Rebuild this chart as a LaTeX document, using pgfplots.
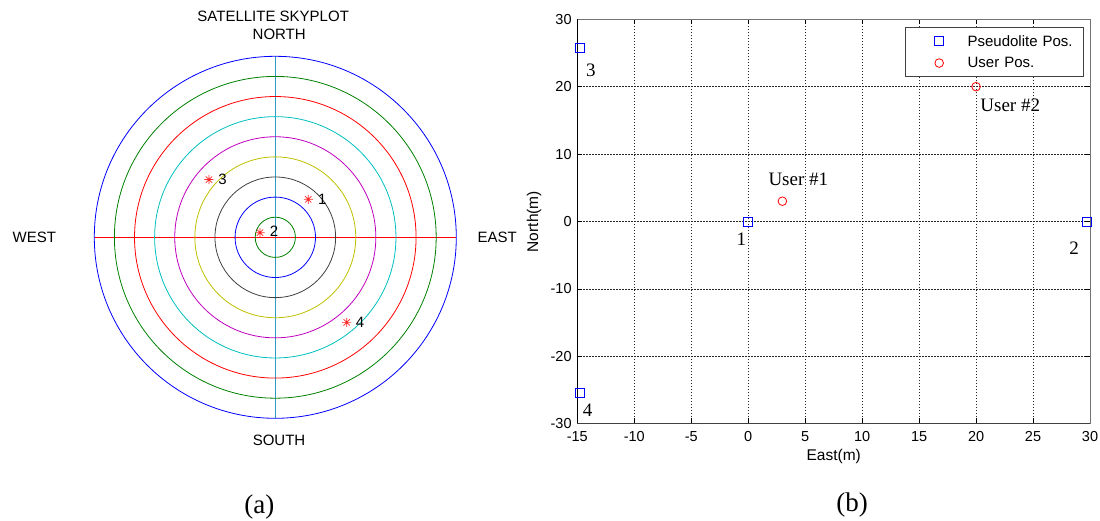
\documentclass[border=0pt]{standalone}
\usepackage{pgfplots}
\pgfplotsset{compat=1.18}
\usepackage{fontspec}
\setmainfont{Liberation Sans}
\newfontfamily\tnr{Liberation Serif}
\definecolor{mb}{rgb}{0,0,1}
\definecolor{mg}{rgb}{0,0.5,0}
\definecolor{mr}{rgb}{1,0,0}
\definecolor{mc}{rgb}{0,0.75,0.75}
\definecolor{mm}{rgb}{0.75,0,0.75}
\definecolor{my}{rgb}{0.75,0.75,0}
\definecolor{mk}{rgb}{0.25,0.25,0.25}
\pgfdeclareplotmark{matast}{%
 \pgfpathmoveto{\pgfqpoint{-\pgfplotmarksize}{0pt}}\pgfpathlineto{\pgfqpoint{\pgfplotmarksize}{0pt}}%
 \pgfpathmoveto{\pgfqpoint{0pt}{-\pgfplotmarksize}}\pgfpathlineto{\pgfqpoint{0pt}{\pgfplotmarksize}}%
 \pgfpathmoveto{\pgfqpoint{-.707\pgfplotmarksize}{-.707\pgfplotmarksize}}\pgfpathlineto{\pgfqpoint{.707\pgfplotmarksize}{.707\pgfplotmarksize}}%
 \pgfpathmoveto{\pgfqpoint{-.707\pgfplotmarksize}{.707\pgfplotmarksize}}\pgfpathlineto{\pgfqpoint{.707\pgfplotmarksize}{-.707\pgfplotmarksize}}%
 \pgfusepathqstroke}
\newcommand{\sfs}{\fontsize{15bp}{18bp}\selectfont}
\newcommand{\tks}{\fontsize{14.5bp}{17bp}\selectfont}
\newcommand{\sers}{\fontsize{19bp}{22bp}\selectfont\tnr}
\begin{document}
\begin{tikzpicture}
\useasboundingbox (0,0) rectangle (1100bp,521bp);
% ---------- (a) skyplot ----------
\begin{axis}[name=sky, at={(94.3bp,102.7bp)}, anchor=south west, scale only axis,
  width=362bp, height=362bp, xmin=-90, xmax=90, ymin=-90, ymax=90,
  hide axis, clip=false]
\fill[cyan!80!black] (axis cs:-0.3,-90) rectangle (axis cs:0.3,90);
\fill[red] (axis cs:-90,-0.3) rectangle (axis cs:90,0.3);
\draw[mb, line width=0.8bp] (axis cs:0,0) circle[radius=90];
\draw[mg, line width=0.8bp] (axis cs:0,0) circle[radius=80];
\draw[mr, line width=0.8bp] (axis cs:0,0) circle[radius=70];
\draw[mc, line width=0.8bp] (axis cs:0,0) circle[radius=60];
\draw[mm, line width=0.8bp] (axis cs:0,0) circle[radius=50];
\draw[my, line width=0.8bp] (axis cs:0,0) circle[radius=40];
\draw[mk, line width=0.8bp] (axis cs:0,0) circle[radius=30];
\draw[mb, line width=0.8bp] (axis cs:0,0) circle[radius=20];
\draw[mg, line width=0.8bp] (axis cs:0,0) circle[radius=10];
\addplot[only marks, mark=matast, mark size=4.5bp, draw=red!85, mark options={draw=red!85}, line width=0.7bp]
  coordinates {(16.4,18.9) (-7.6,2.3) (-33.0,28.7) (35.5,-42.3)};
\node[font=\sfs] at (axis cs:23.4,18.9) {1};
\node[font=\sfs] at (axis cs:-0.6,2.8) {2};
\node[font=\sfs] at (axis cs:-26.2,29.0) {3};
\node[font=\sfs] at (axis cs:42.1,-42.3) {4};
\end{axis}
\node[font=\sfs] at (273.2bp,504.3bp) {SATELLITE SKYPLOT};
\node[font=\sfs] at (279.2bp,486.7bp) {NORTH};
\node[font=\sfs] at (34.3bp,283.7bp) {WEST};
\node[font=\sfs] at (497.3bp,283.7bp) {EAST};
\node[font=\sfs] at (279bp,80.3bp) {SOUTH};
\node[font=\fontsize{27bp}{30bp}\selectfont\tnr] at (259.3bp,14.3bp) {(a)};
% ---------- (b) positions ----------
\begin{axis}[at={(577.3bp,97.5bp)}, anchor=south west, scale only axis,
  width=512.7bp, height=404.2bp, xmin=-15, xmax=30, ymin=-30, ymax=30,
  xtick={-15,-10,...,30}, ytick={-30,-20,...,30},
  /pgf/number format/assume math mode=true,
  ticklabel style={font=\tks},
  xticklabel style={inner sep=0pt, anchor=north, yshift=-8bp},
  yticklabel style={inner sep=0pt, anchor=east, xshift=-5.5bp},
  tick align=inside, major tick length=5bp, tick style={black, line width=0.5bp},
  grid=major, major grid style={black!85, line width=0.5bp, dash pattern=on 1.5bp off 1.5bp},
  axis line style={draw=black!55, line width=0.8bp},
  clip=false,
  legend cell align=left,
  legend style={at={(rel axis cs:1,1)}, anchor=north east, xshift=-6bp, yshift=-8bp,
    draw=black!75, line width=0.8bp, fill=white, inner xsep=3bp, inner ysep=2.8bp,
    font=\sfs, column sep=5bp, row sep=0pt,
    nodes={inner xsep=3bp, inner ysep=0pt, minimum height=21.7bp, text width=110bp, align=left}},
  legend image code/.code={\path (-30bp,0) (20bp,0); \draw[#1] plot coordinates {(0bp,0bp)};}
]
\addplot[only marks, mark=square, mark size=4.5bp, blue, line width=0.8bp]
  coordinates {(0,0) (29.7,0) (-14.75,25.7) (-14.75,-25.5)};
\addlegendentry{Pseudolite Pos.}
\addplot[only marks, mark=o, mark size=4.3bp, red, line width=0.8bp]
  coordinates {(3,3) (20,20)};
\addlegendentry{User Pos.}
\draw[black, line width=0.8bp] (rel axis cs:0,1) -- (rel axis cs:0,0);
\draw[black!75, line width=0.8bp] (rel axis cs:0,0) -- (rel axis cs:1,0);
\node[font=\sers] at (axis cs:-13.8,22.4) {3};
\node[font=\sers] at (axis cs:-14.1,-28.1) {4};
\node[font=\sers] at (axis cs:-0.6,-2.7) {1};
\node[font=\sers] at (axis cs:28.6,-4.0) {2};
\node[font=\sers] at (axis cs:4.4,6.2) {User \#1};
\node[font=\sers] at (axis cs:23.0,17.3) {User \#2};
\end{axis}
\node[font=\fontsize{15.5bp}{18bp}\selectfont] at (833.7bp,64.3bp) {East(m)};
\node[font=\fontsize{15.5bp}{18bp}\selectfont, rotate=90] at (534bp,299.3bp) {North(m)};
\node[font=\fontsize{27bp}{30bp}\selectfont\tnr] at (852bp,16bp) {(b)};
\end{tikzpicture}
\end{document}
